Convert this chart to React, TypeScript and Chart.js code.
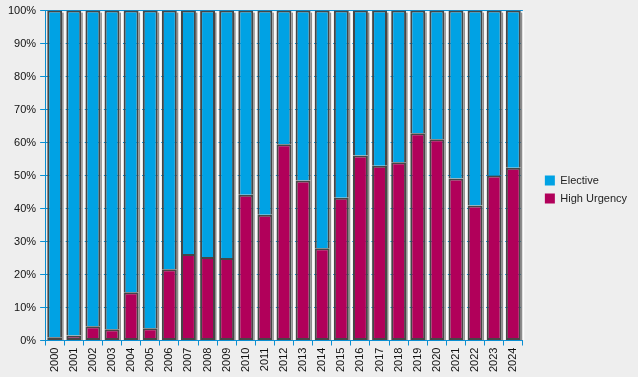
import React, { useEffect, useRef } from "react";
import { Chart, registerables } from "chart.js";

Chart.register(...registerables);

const years = ["2000","2001","2002","2003","2004","2005","2006","2007","2008","2009","2010","2011","2012","2013","2014","2015","2016","2017","2018","2019","2020","2021","2022","2023","2024"];
const highUrgency = [1, 1.5, 4.3, 3.4, 14.6, 3.7, 21.6, 26.2, 25.3, 25, 44.2, 38.1, 59.5, 48.5, 28, 43.3, 56.1, 53, 54, 62.8, 61, 49.1, 40.9, 50, 52.4];
const elective = [99, 98.5, 95.7, 96.6, 85.4, 96.3, 78.4, 73.8, 74.7, 75, 55.8, 61.9, 40.5, 51.5, 72, 56.7, 43.9, 47, 46, 37.2, 39, 50.9, 59.1, 50, 47.6];
const yTicks = [0, 10, 20, 30, 40, 50, 60, 70, 80, 90, 100];

const LEGEND_EXTRA = 16;
const LEGEND_SHIFT = 15;

const shadowPlugin = {
  id: "barShadow",
  beforeLayout(chart: any) {
    const legend = chart.legend;
    if (legend && !legend.__wrapped) {
      const orig = legend.fit;
      legend.fit = function (this: any) {
        orig.call(this);
        this.width += LEGEND_EXTRA;
      };
      legend.__wrapped = true;
    }
  },
  afterLayout(chart: any) {
    if (chart.legend) {
      chart.legend.left += LEGEND_SHIFT;
      chart.legend.top -= 2;
      chart.legend.bottom -= 2;
    }
  },
  beforeDatasetsDraw(chart: any) {
    const ctx = chart.ctx;
    const top = chart.getDatasetMeta(1).data;
    const bottom = chart.getDatasetMeta(0).data;
    ctx.save();
    top.forEach((bar: any, i: number) => {
      const b = bottom[i];
      const w = bar.width;
      const left = bar.x - w / 2;
      const yTop = bar.y;
      const yBot = b.base;
      ctx.fillStyle = "#fbfbfb";
      ctx.fillRect(left + w, yTop + 1, 3.5, yBot - yTop - 1);
      ctx.fillStyle = "#8c8c8c";
      ctx.fillRect(left + w, yTop + 2, 1.5, yBot - yTop - 2);
    });
    ctx.restore();
  },
};

export default function App() {
  const ref = useRef<HTMLCanvasElement>(null);
  useEffect(() => {
    document.body.style.margin = "0";
    document.body.style.background = "#eeeeee";
    const chart = new Chart(ref.current!, {
      type: "bar",
      data: {
        labels: years,
        datasets: [
          {
            label: "High Urgency",
            data: highUrgency,
            backgroundColor: "#b1005a",
            borderColor: "#464646",
            borderWidth: 2,
            borderSkipped: false,
            barPercentage: 0.78,
            categoryPercentage: 1,
          },
          {
            label: "Elective",
            data: elective,
            backgroundColor: "#00a2e4",
            borderColor: "#464646",
            borderWidth: 2,
            borderSkipped: "bottom",
            barPercentage: 0.78,
            categoryPercentage: 1,
          },
        ],
      },
      options: {
        responsive: false,
        animation: false,
        layout: { padding: { top: 9, right: 0, left: 4, bottom: 3 } },
        plugins: {
          tooltip: { enabled: false },
          legend: {
            position: "right",
            reverse: true,
            labels: {
              boxWidth: 10,
              boxHeight: 10,
              padding: 7,
              color: "#222",
              font: { family: "Liberation Sans, Arial", size: 11 },
              generateLabels: (c: any) =>
                c.data.datasets.map((d: any, i: number) => ({
                  text: d.label,
                  fillStyle: d.backgroundColor,
                  strokeStyle: d.backgroundColor,
                  lineWidth: 0,
                  datasetIndex: i,
                  fontColor: "#222",
                })),
            },
          },
        },
        scales: {
          x: {
            stacked: true,
            grid: {
              display: true,
              drawOnChartArea: false,
              color: "#0a8fd2",
              tickLength: 5,
              offset: true,
            },
            border: { color: "#0a8fd2", width: 1 },
            ticks: {
              maxRotation: 90,
              minRotation: 90,
              autoSkip: false,
              color: "#111",
              padding: 2,
              font: { family: "Liberation Sans, Arial", size: 11 },
            },
          },
          y: {
            stacked: true,
            min: 0,
            max: 100,
            grid: { color: "#0a8fd2", tickLength: 5 },
            border: { color: "#0a8fd2", width: 1 },
            afterBuildTicks: (axis: any) => {
              axis.ticks = yTicks.map((v) => ({ value: v }));
            },
            ticks: {
              color: "#111",
              padding: 4,
              font: { family: "Liberation Sans, Arial", size: 11 },
              callback: (v: any) => v + "%",
            },
          },
        },
      },
      plugins: [shadowPlugin],
    });
    return () => chart.destroy();
  }, []);
  return (
    <div style={{ width: 638, height: 377, background: "#eeeeee" }}>
      <canvas ref={ref} width={638} height={377} />
    </div>
  );
}
